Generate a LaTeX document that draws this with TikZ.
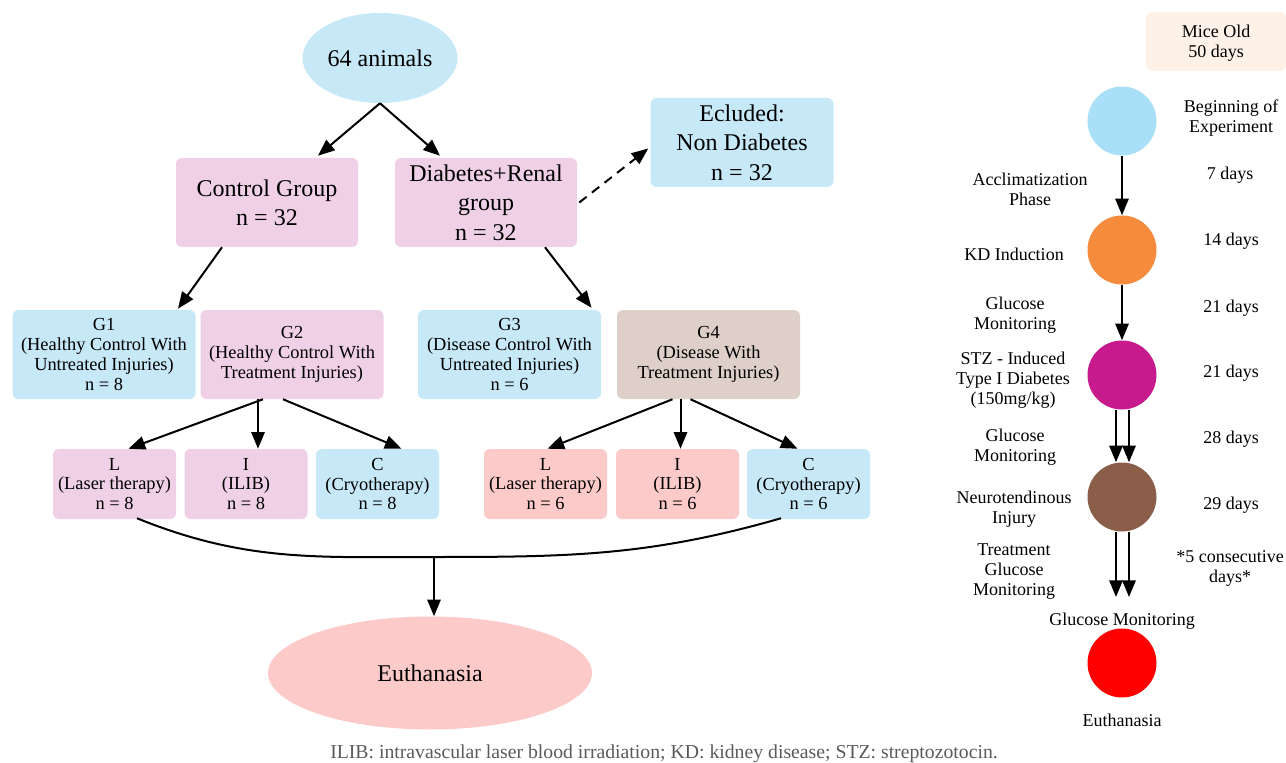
\documentclass[tikz,border=0pt]{standalone}
\usepackage{fontspec}
\setmainfont{Liberation Serif}
\usetikzlibrary{arrows.meta,shapes.geometric,calc}
\newdimen\pxu \pxu=0.75pt
\definecolor{cblue}{HTML}{C6E8F7}
\definecolor{cpink}{HTML}{EFD0E6}
\definecolor{cbeige}{HTML}{DED0C8}
\definecolor{csalmon}{HTML}{FDCACA}
\definecolor{cpeach}{HTML}{FDF1E8}
\definecolor{tblue}{HTML}{AADFF8}
\definecolor{torange}{HTML}{F58B3C}
\definecolor{tmag}{HTML}{C71A8C}
\definecolor{tbrown}{HTML}{8B5E4A}
\definecolor{tred}{HTML}{FF0000}
\definecolor{capgray}{HTML}{5A5A5A}
\tikzset{
  bigtxt/.style={font=\fontsize{18}{22}\selectfont, align=center},
  smalltxt/.style={font=\fontsize{13.8}{14.8}\selectfont, align=center},
  tltxt/.style={font=\fontsize{13.5}{15}\selectfont, align=center, inner sep=0pt, yshift=-1.5pt},
  bigbox/.style={bigtxt, rounded corners=4.5pt, minimum width=182\pxu, minimum height=89\pxu, inner sep=0pt},
  gbox/.style={smalltxt, rounded corners=4.5pt, minimum width=183\pxu, minimum height=89\pxu, inner sep=0pt},
  tbox/.style={smalltxt, rounded corners=4.5pt, minimum width=123\pxu, minimum height=70\pxu, inner sep=0pt},
  dot/.style={circle, minimum size=69\pxu, inner sep=0pt},
  arr/.style={line width=1.5pt, -{Triangle[length=12.5pt,width=10pt]}},
}
\begin{document}
\begin{tikzpicture}[x=0.75pt, y=-0.75pt]
\useasboundingbox (0,0) rectangle (1286,763);

% ---------- left flowchart ----------
\node[ellipse, fill=cblue, minimum width=155\pxu, minimum height=90\pxu, inner sep=0pt, bigtxt] (animals) at (380,58) {64 animals};
\node[bigbox, fill=cpink] (cg) at (267,202.5) {Control Group\\n = 32};
\node[bigbox, fill=cpink] (dr) at (486,202.5) {Diabetes+Renal\\group\\n = 32};
\node[bigbox, fill=cblue, minimum width=183\pxu] (ex) at (742,142.5) {Ecluded:\\Non Diabetes\\n = 32};

\node[gbox, fill=cblue] (g1) at (104,354.5) {G1\\(Healthy Control With\\Untreated Injuries)\\n = 8};
\node[gbox, fill=cpink] (g2) at (292,354.5) {G2\\(Healthy Control With\\Treatment Injuries)};
\node[gbox, fill=cblue] (g3) at (509.5,354.5) {G3\\(Disease Control With\\Untreated Injuries)\\n = 6};
\node[gbox, fill=cbeige] (g4) at (708.5,354.5) {G4\\(Disease With\\Treatment Injuries)};

\node[tbox, fill=cpink] (l1) at (114.5,484) {L\\(Laser therapy)\\n = 8};
\node[tbox, fill=cpink] (i1) at (246,484) {I\\(ILIB)\\n = 8};
\node[tbox, fill=cblue] (c1) at (377.5,484) {C\\(Cryotherapy)\\n = 8};
\node[tbox, fill=csalmon] (l2) at (545.5,484) {L\\(Laser therapy)\\n = 6};
\node[tbox, fill=csalmon] (i2) at (677.5,484) {I\\(ILIB)\\n = 6};
\node[tbox, fill=cblue] (c2) at (808.5,484) {C\\(Cryotherapy)\\n = 6};

\node[ellipse, fill=csalmon, minimum width=324\pxu, minimum height=113\pxu, inner sep=0pt, bigtxt] (euth) at (430,673) {Euthanasia};

\draw[arr] (animals.south) -- ($(cg.north)+(51,-2)$);
\draw[arr] (animals.south) -- ($(dr.north)+(-46,-2)$);
\draw[arr, dash pattern=on 7pt off 5pt] ($(dr.east)+(2,0)$) -- ($(ex.west)+(-2,6)$);
\draw[arr] ($(cg.south)+(-45,0)$) -- ($(g1.north)+(74,-1)$);
\draw[arr] ($(dr.south)+(59,0)$) -- ($(g3.north)+(82,-2)$);

\draw[arr] ($(g2.south)+(-29,0)$) -- ($(l1.north)+(14,0)$);
\draw[arr] ($(g2.south)+(-34,0)$) -- ($(i1.north)+(12,0)$);
\draw[arr] ($(g2.south)+(-9,0)$) -- ($(c1.north)+(24,0)$);
\draw[arr] ($(g4.south)+(-36,0)$) -- ($(l2.north)+(2,0)$);
\draw[arr] ($(g4.south)+(-28,0)$) -- ($(i2.north)+(3,0)$);
\draw[arr] ($(g4.south)+(-18,0)$) -- ($(c2.north)+(-11,0)$);

\coordinate (merge) at (434,557);
\draw[line width=1.5pt] ($(l1.south)+(22.5,-1)$) to[out=-22,in=180] (merge) to[out=0,in=196] ($(c2.south)+(-27.5,-1)$);
\draw[arr] (merge) -- (merge |- euth.north);

% ---------- right timeline ----------
\node[fill=cpeach, rounded corners=4.5pt, minimum width=140\pxu, minimum height=59\pxu, inner sep=0pt] (mice) at (1216,41.5) {};
\node[tltxt] (micet) at (mice.center) {Mice Old\\50 days};

\node[dot, fill=tblue] (t1) at (1122,121) {};
\node[dot, fill=torange] (t2) at (1122,250) {};
\node[dot, fill=tmag] (t3) at (1122,375) {};
\node[dot, fill=tbrown] (t4) at (1122,497) {};
\node[dot, fill=tred] (t5) at (1122,663) {};

\node[tltxt] (glm) at (1122,619) {Glucose Monitoring};
\node[tltxt] (eu) at (1122,718) {Euthanasia};
\coordinate (tend) at (1122,597);

\draw[arr] (t1.south) -- (t2.north);
\draw[arr] (t2.south) -- (t3.north);
\draw[arr] ($(t3.south)+(-6,0)$) -- ($(t4.north)+(-6,0)$);
\draw[arr] ($(t3.south)+(7,0)$) -- ($(t4.north)+(7,0)$);
\draw[arr] ($(t4.south)+(-6,0)$) -- ($(tend)+(-6,0)$);
\draw[arr] ($(t4.south)+(7,0)$) -- ($(tend)+(7,0)$);

% left labels
\node[tltxt] (la1) at (1030,187) {Acclimatization\\Phase};
\node[tltxt] (la2) at (1014,252) {KD Induction};
\node[tltxt] (la3) at (1015,313) {Glucose\\Monitoring};
\node[tltxt] (la4) at (1013,378) {STZ - Induced\\Type I Diabetes\\(150mg/kg)};
\node[tltxt] (la5) at (1015,445) {Glucose\\Monitoring};
\node[tltxt] (la6) at (1014,507) {Neurotendinous\\Injury};
\node[tltxt] (la7) at (1014,570) {Treatment\\Glucose\\Monitoring};

% right labels
\node[tltxt] (ra1) at (1231,116) {Beginning of\\Experiment};
\node[tltxt] (ra2) at (1230,173) {7 days};
\node[tltxt] (ra3) at (1231,239) {14 days};
\node[tltxt] (ra4) at (1231,306) {21 days};
\node[tltxt] (ra5) at (1231,371) {21 days};
\node[tltxt] (ra6) at (1231,437) {28 days};
\node[tltxt] (ra7) at (1231,503) {29 days};
\node[tltxt] (ra8) at (1230,566) {*5 consecutive\\days*};

% caption
\node[tltxt, text=capgray, font=\fontsize{14.8}{16}\selectfont] (cap) at (664,752) {ILIB: intravascular laser blood irradiation; KD: kidney disease; STZ: streptozotocin.};
\end{tikzpicture}
\end{document}
